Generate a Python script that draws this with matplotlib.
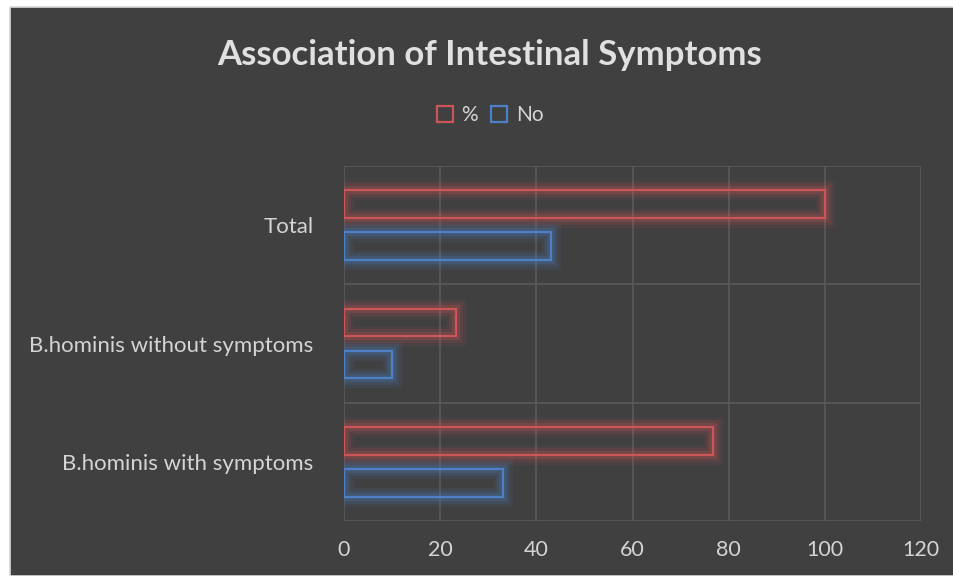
import numpy as np
import matplotlib.pyplot as plt
import matplotlib.patheffects as pe
from matplotlib.patches import Rectangle

# data
categories = ["B.hominis with symptoms", "B.hominis without symptoms", "Total"]
pct_values = [76.7, 23.3, 100]
no_values = [33, 10, 43]
series_names = ["%", "No"]
x_ticks = [0, 20, 40, 60, 80, 100, 120]

bg = "#404040"
red = "#CC5558"
blue = "#4D80C6"
txt = "#D4D4D4"

plt.rcParams['font.family'] = ['Lato', 'DejaVu Sans']

fig = plt.figure(figsize=(9.54, 5.76), dpi=100)
fig.patch.set_facecolor("white")
# the dark chart area, offset a little from the top/left like the screenshot
fig.patches.append(Rectangle((10 / 954, 0), 1, 1 - 7 / 576, transform=fig.transFigure,
                             facecolor=bg, edgecolor="#D9D9D9", linewidth=1.2, zorder=-5))

ax = fig.add_axes([344 / 954, 1 - 521 / 576, 577 / 954, 355 / 576])
ax.patch.set_alpha(0)

y = np.arange(len(categories))
h = 0.235
off = 0.178


def glow(color):
    # soft halo round the outline
    return [pe.Stroke(linewidth=14, foreground=color, alpha=0.09),
            pe.Stroke(linewidth=10, foreground=color, alpha=0.12),
            pe.Stroke(linewidth=6, foreground=color, alpha=0.22),
            pe.Normal()]


b1 = ax.barh(y + off, pct_values, height=h, facecolor="none", edgecolor=red,
             linewidth=1.6, label=series_names[0], zorder=3)
b2 = ax.barh(y - off, no_values, height=h, facecolor="none", edgecolor=blue,
             linewidth=1.6, label=series_names[1], zorder=3)
for b in b1:
    b.set_path_effects(glow(red))
for b in b2:
    b.set_path_effects(glow(blue))

ax.set_xlim(0, 120)
ax.set_ylim(-0.5, 2.5)
ax.set_xticks(x_ticks)
ax.set_yticks(y)
ax.set_yticklabels(categories)
# category separators
for yy in [-0.5, 0.5, 1.5, 2.5]:
    ax.axhline(yy, color="#5A5A5A", linewidth=1.2, zorder=1)
for xx in x_ticks:
    ax.axvline(xx, color="#5A5A5A", linewidth=1.2, zorder=1)

for s in ax.spines.values():
    s.set_visible(False)
ax.tick_params(axis="both", length=0, colors=txt, labelsize=15.5)
ax.tick_params(axis="y", labelsize=16, pad=22)
ax.tick_params(axis="x", pad=14)

fig.text(490 / 954, 1 - 55 / 576, "Association of Intestinal Symptoms", ha="center",
         va="center", fontsize=25, fontweight="bold", color="#E0E0E0")

leg = fig.legend(handles=[b1, b2], loc="center", bbox_to_anchor=(490 / 954, 1 - 115 / 576),
                 ncol=2, frameon=False, fontsize=15, handlelength=0.8, handleheight=0.8,
                 handletextpad=0.4, columnspacing=0.6, labelcolor=txt)
for hnd in leg.legend_handles:
    hnd.set_path_effects([])

fig.savefig("out.png", dpi=100, facecolor=fig.get_facecolor())
